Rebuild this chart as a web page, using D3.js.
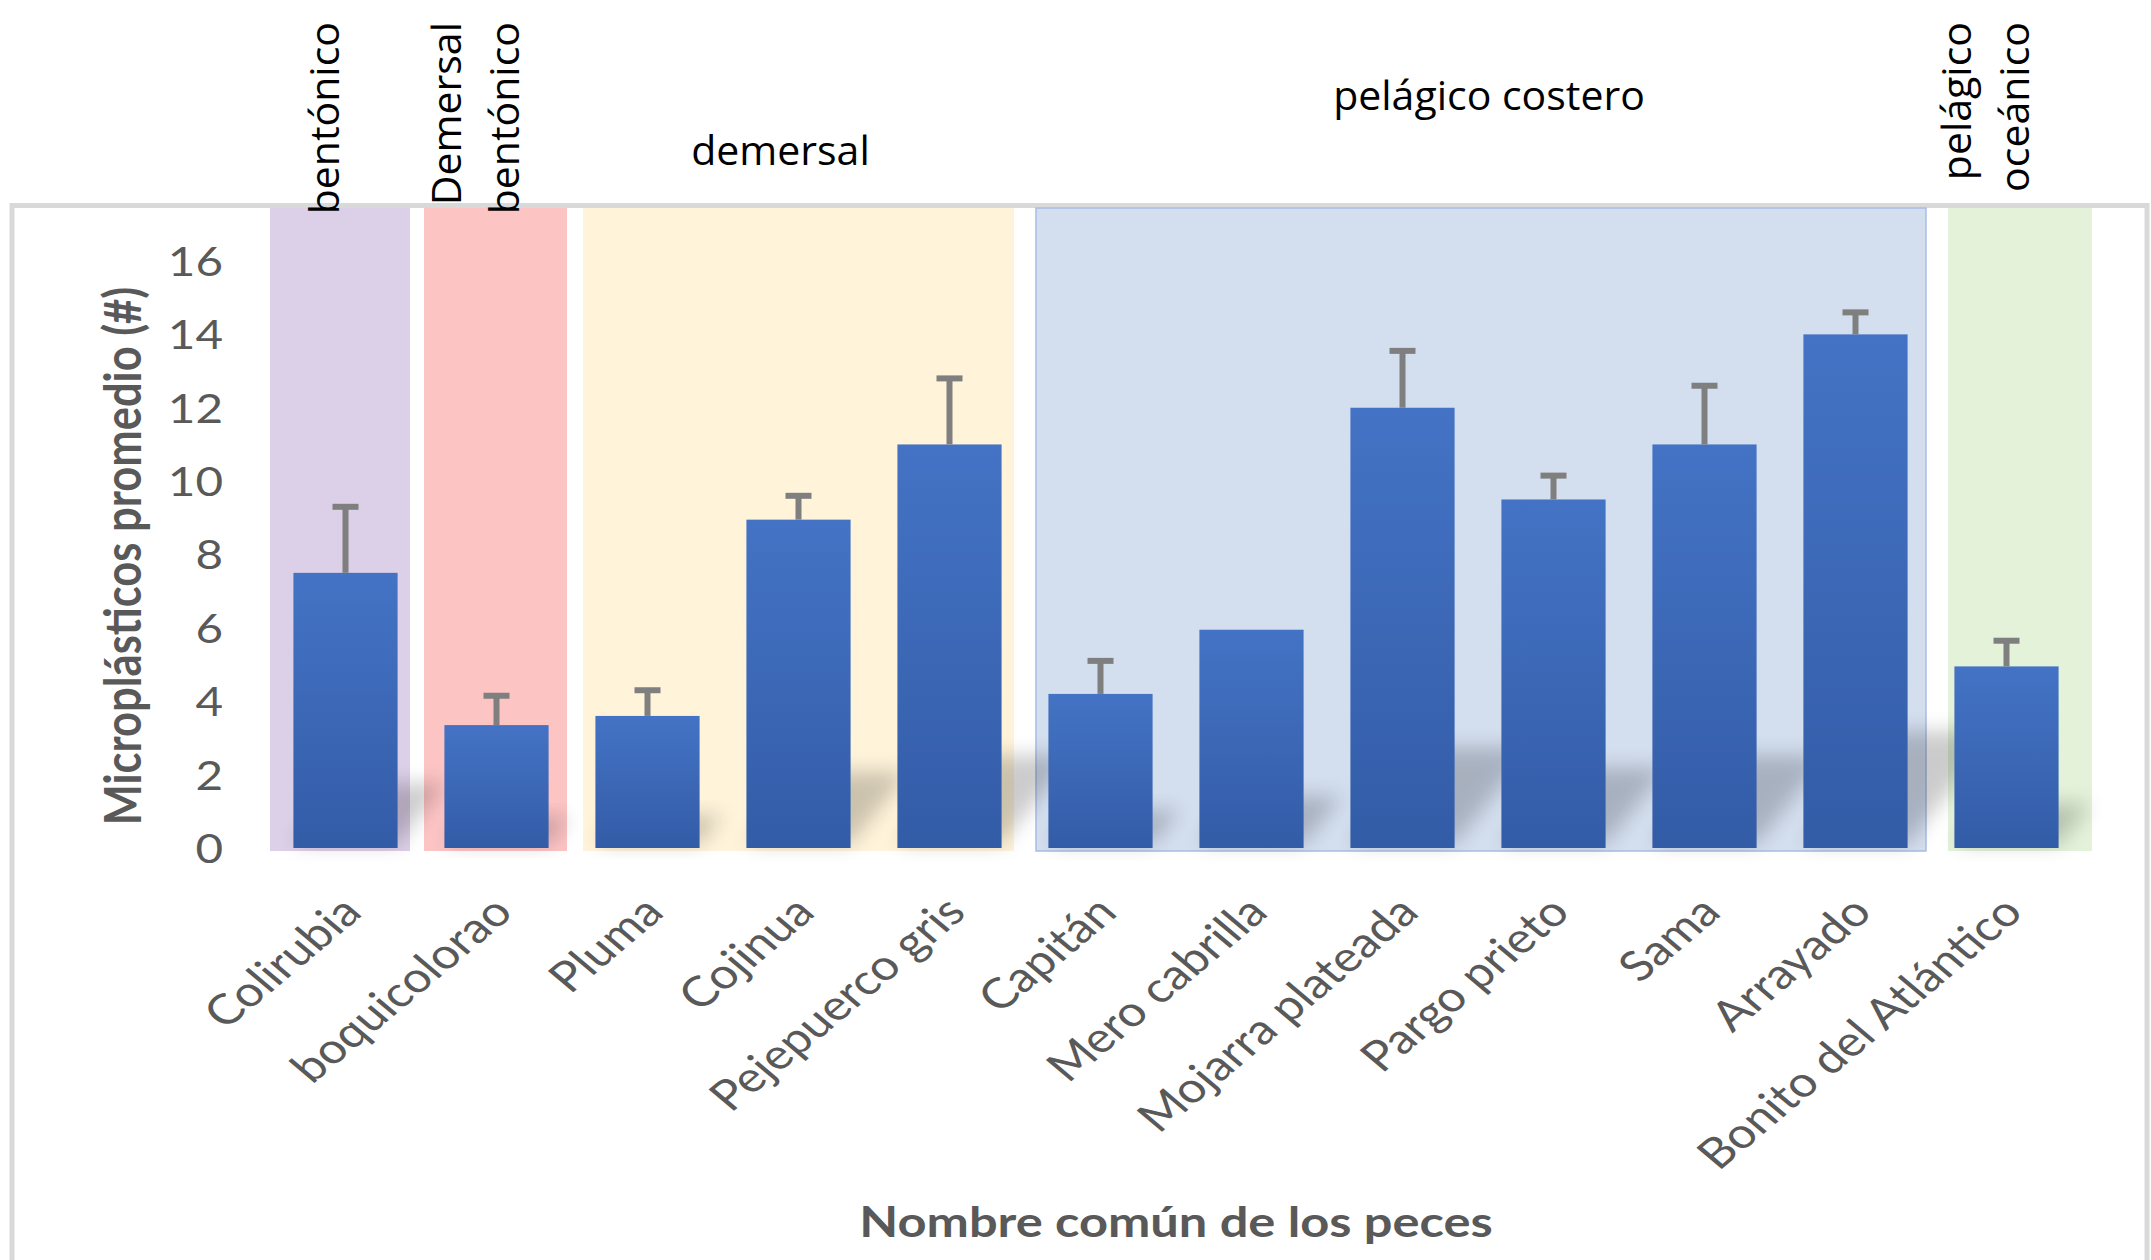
<!DOCTYPE html>
<html>
<head>
<meta charset="utf-8">
<script src="https://cdn.jsdelivr.net/npm/d3@7"></script>
<style>
  body { margin: 0; background: #fff; }
</style>
</head>
<body>
<script>
// Chart size
var width = 2151;
var height = 1260;

// Data
var fishNames = ["Colirubia", "boquicolorao", "Pluma", "Cojinua", "Pejepuerco gris", "Capitán",
                 "Mero cabrilla", "Mojarra plateada", "Pargo prieto", "Sama", "Arrayado", "Bonito del Atlántico"];
var meanValues = [7.5, 3.35, 3.6, 8.95, 11, 4.2, 5.95, 12, 9.5, 11, 14, 4.95];
var errorValues = [1.8, 0.8, 0.7, 0.65, 1.8, 0.9, 0, 1.55, 0.65, 1.6, 0.6, 0.7];
var yTicks = [0, 2, 4, 6, 8, 10, 12, 14, 16];

// Habitat groups (first and last fish index of each)
var groupLabels = [["bentónico"], ["Demersal", "bentónico"], ["demersal"], ["pelágico costero"], ["pelágico", "oceánico"]];
var groupStart = [0, 1, 2, 5, 11];
var groupEnd = [0, 1, 4, 10, 11];

// Styles / placement of the hand drawn group blocks
var groupFill = ["#dccfe8", "#fdc4c4", "#fff4da", "#d3deef", "#e3f2d9"];
var groupStroke = ["none", "none", "none", "#a9bde3", "none"];
var groupPadLeft = [0, 3, 11, 11, 17];
var groupPadRight = [11, 5, 11, 5, -10];
var groupLabelBaseline = [null, null, 165, 110, null]; // horizontal labels only
var groupLabelShift = [0, 0, -18, 11, 0];

var stretch = 1.19; // the original chart is stretched horizontally

var svg = d3.select("body")
            .append("svg")
            .attr("width", width)
            .attr("height", height);

var defs = svg.append("defs");
var grad = defs.append("linearGradient")
               .attr("id", "barGrad")
               .attr("x1", 0).attr("y1", 0).attr("x2", 0).attr("y2", 1);
grad.append("stop").attr("offset", "0%").attr("stop-color", "#4473c5");
grad.append("stop").attr("offset", "100%").attr("stop-color", "#335ca7");

defs.append("filter")
    .attr("id", "blur")
    .attr("x", "-50%").attr("y", "-50%").attr("width", "200%").attr("height", "200%")
    .append("feGaussianBlur")
    .attr("stdDeviation", 10);

// Scales
var x = d3.scaleBand()
          .domain(fishNames)
          .range([270, 2082])
          .paddingInner(0.31)
          .paddingOuter(0.155);

var y = d3.scaleLinear()
          .domain([0, 16])
          .range([848, 261]);

// Chart frame
svg.append("rect")
    .attr("x", 12)
    .attr("y", 205.5)
    .attr("width", 2135)
    .attr("height", 1100)
    .style("fill", "#fff")
    .style("stroke", "#d9d9d9")
    .style("stroke-width", 5);

// Group background blocks
var half = x.step() * x.paddingInner() / 2;
function cellLeft(i) { return x(fishNames[i]) - half; }
function cellRight(i) { return x(fishNames[i]) + x.bandwidth() + half; }

svg.selectAll("rect.group")
    .data(groupStart)
    .enter()
    .append("rect")
    .attr("class", "group")
    .attr("x", function(d, i) { return cellLeft(d) + groupPadLeft[i]; })
    .attr("y", 208)
    .attr("width", function(d, i) {
        return cellRight(groupEnd[i]) - groupPadRight[i] - cellLeft(d) - groupPadLeft[i];
    })
    .attr("height", y(0) + 3 - 208)
    .style("fill", function(d, i) { return groupFill[i]; })
    .style("stroke", function(d, i) { return groupStroke[i]; })
    .style("stroke-width", 1.5);

// Soft perspective shadows of the bars
svg.selectAll("polygon.shadow")
    .data(meanValues)
    .enter()
    .append("polygon")
    .attr("class", "shadow")
    .attr("points", function(d, i) {
        var x0 = x(fishNames[i]), x1 = x0 + x.bandwidth(), yb = y(0) - 4;
        var h = (y(0) - y(d)) * 0.22;
        var s = h * 0.8;
        return [[x0, yb], [x1, yb], [x1 + s, yb - h], [x0 + s, yb - h]]
            .map(function(p) { return p.join(","); }).join(" ");
    })
    .style("fill", "#000")
    .style("opacity", 0.2)
    .attr("filter", "url(#blur)");

// Bars
svg.selectAll("rect.bar")
    .data(meanValues)
    .enter()
    .append("rect")
    .attr("class", "bar")
    .attr("x", function(d, i) { return x(fishNames[i]); })
    .attr("y", function(d) { return y(d); })
    .attr("width", x.bandwidth())
    .attr("height", function(d) { return y(0) - y(d); })
    .style("fill", "url(#barGrad)");

// Error bars (upper only)
meanValues.forEach(function(d, i) {
    if (errorValues[i] <= 0) return;
    var cx = x(fishNames[i]) + x.bandwidth() / 2;
    var g = svg.append("g").attr("class", "err")
               .style("stroke", "#7f7f7f").style("stroke-width", 6);
    g.append("line")
        .attr("x1", cx).attr("x2", cx)
        .attr("y1", y(d)).attr("y2", y(d + errorValues[i]));
    g.append("line")
        .attr("x1", cx - 13).attr("x2", cx + 13)
        .attr("y1", y(d + errorValues[i])).attr("y2", y(d + errorValues[i]));
});

// Y axis
var yAxis = svg.append("g")
    .attr("transform", "translate(223,0)")
    .call(d3.axisLeft(y).tickValues(yTicks).tickSize(0).tickPadding(0));
yAxis.select(".domain").remove();
yAxis.selectAll("text")
    .attr("x", 0)
    .attr("dy", "0.36em")
    .attr("transform", "scale(" + stretch + ",1)")
    .style("font-family", "Lato, 'Open Sans', sans-serif")
    .style("font-size", "40px")
    .style("fill", "#595959");

// X axis
var xAxis = svg.append("g")
    .attr("transform", "translate(0," + y(0) + ")")
    .call(d3.axisBottom(x).tickSize(0).tickPadding(0));
xAxis.select(".domain").remove();
xAxis.selectAll("text")
    .attr("x", 0)
    .attr("y", 0)
    .attr("dy", "0.35em")
    .style("text-anchor", "end")
    .attr("transform", "translate(6,56) scale(" + stretch + ",1) rotate(-45)")
    .style("font-family", "Lato, 'Open Sans', sans-serif")
    .style("font-size", "42px")
    .style("fill", "#595959");

// Axis titles
svg.append("text")
    .attr("transform", "translate(123,556) scale(" + stretch + ",1) rotate(-90)")
    .attr("dy", "0.35em")
    .style("text-anchor", "middle")
    .style("font-family", "Lato, 'Open Sans', sans-serif")
    .style("font-weight", "bold")
    .style("font-size", "43.5px")
    .style("fill", "#595959")
    .text("Microplásticos promedio (#)");

svg.append("text")
    .attr("transform", "translate(1176,1237) scale(" + stretch + ",1)")
    .style("text-anchor", "middle")
    .style("font-family", "Lato, 'Open Sans', sans-serif")
    .style("font-weight", "bold")
    .style("font-size", "42.5px")
    .style("fill", "#595959")
    .text("Nombre común de los peces");

// Habitat labels above the chart
groupLabels.forEach(function(lines, i) {
    var gc = (cellLeft(groupStart[i]) + cellRight(groupEnd[i])) / 2 + groupLabelShift[i];
    if (groupLabelBaseline[i] !== null) {
        svg.append("text")
            .attr("x", gc)
            .attr("y", groupLabelBaseline[i])
            .style("text-anchor", "middle")
            .style("font-family", "'Open Sans', sans-serif")
            .style("font-size", "41px")
            .style("fill", "#000")
            .text(lines[0]);
    } else {
        var bx = gc - 22 + 15.5 - (lines.length - 1) * 29;
        lines.forEach(function(line, j) {
            svg.append("text")
                .attr("transform", "translate(" + (bx + j * 58) + ",22) rotate(-90)")
                .style("text-anchor", "end")
                .style("font-family", "'Open Sans', sans-serif")
                .style("font-size", "41px")
                .style("fill", "#000")
                .text(line);
        });
    }
});
</script>
</body>
</html>
